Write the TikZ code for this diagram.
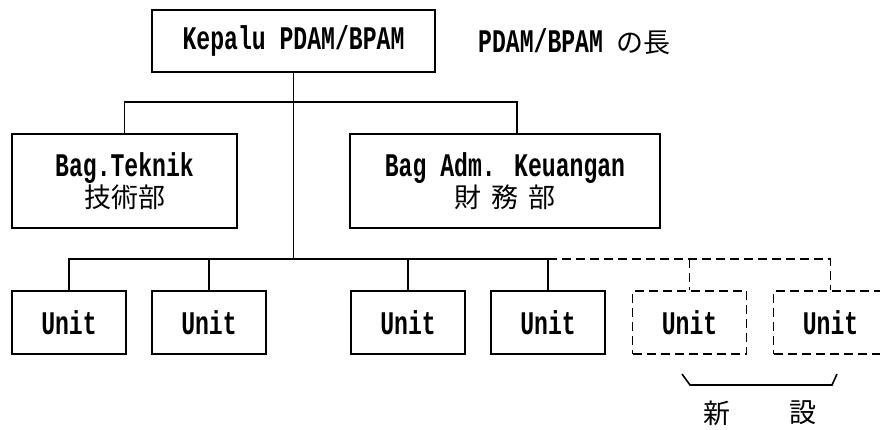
\documentclass[tikz,border=0pt]{standalone}
\usepackage{fontspec}
\newfontfamily\lmono[FakeStretch=0.7]{Liberation Mono}
\newfontfamily\lcjk{Noto Sans CJK JP}
\newcommand{\cjkfont}{\lcjk\mdseries\fontsize{27}{27}\selectfont}
\tikzset{
  orgbox/.style={draw, line width=1.8pt, inner sep=0pt, align=center,
    font=\lmono\bfseries\fontsize{33}{30}\selectfont},
  unitbox/.style={orgbox, minimum width=114pt, minimum height=63pt},
  newbox/.style={unitbox, dash pattern=on 9pt off 5pt},
  conn/.style={line width=1.8pt},
  dconn/.style={conn, dash pattern=on 9pt off 5pt},
  cjktext/.style={inner sep=0pt, font=\cjkfont},
  monotext/.style={inner sep=0pt, font=\lmono\bfseries\fontsize{33}{30}\selectfont}
}
\begin{document}
\begin{tikzpicture}[x=1pt,y=-1pt]
\useasboundingbox (0,0) rectangle (880,429);
\fill[white] (0,0) rectangle (880,429);
\clip (0,0) rectangle (880,429);

\node[orgbox, minimum width=283pt, minimum height=62pt] (top) at (293.5,41) {Kepalu PDAM/BPAM};
\node[monotext, anchor=west] (toplbl) at (478,42) {PDAM/BPAM {\cjkfont の長}};

\node[orgbox, minimum width=225pt, minimum height=94pt] (tek) at (124.5,181)
  {Bag.Teknik\\[1pt]{\cjkfont 技術部}};
\node[orgbox, minimum width=310pt, minimum height=94pt] (adm) at (505,181)
  {Bag Adm. Keuangan\\[1pt]{\cjkfont 財\hspace{10pt}務\hspace{10pt}部}};

\node[unitbox] (u1) at (69,322.5) {Unit};
\node[unitbox] (u2) at (209,322.5) {Unit};
\node[unitbox] (u3) at (408,322.5) {Unit};
\node[unitbox] (u4) at (548,322.5) {Unit};
\node[newbox] (u5) at (689.5,322.5) {Unit};
\node[newbox] (u6) at (830.5,322.5) {Unit};

\coordinate (bus) at (293.5,259);

% top level connectors
\draw[conn] (top.south) -- (top.south |- bus);
\draw[conn] (tek.north) |- ([xshift=12pt,yshift=31pt]adm.north) -- ([xshift=12pt]adm.north);

% unit bus
\draw[conn] (u1.north) |- (u4.north |- bus) -- (u4.north);
\draw[conn] (u2.north) -- (u2.north |- bus);
\draw[conn] (u3.north) -- (u3.north |- bus);
\draw[dconn] (u4.north |- bus) -| (u6.north);
\draw[dconn] (u5.north |- bus) -- (u5.north);

% bracket
\coordinate (brA) at (682,374);
\coordinate (brB) at (690,385);
\coordinate (brC) at (832,385);
\coordinate (brD) at (837,374);
\draw[line width=1.6pt] (brA) -- (brB) -- (brC) -- (brD);

\node[cjktext] (shin) at (717,413) {新};
\node[cjktext] (setsu) at (803,413) {設};
\end{tikzpicture}
\end{document}
